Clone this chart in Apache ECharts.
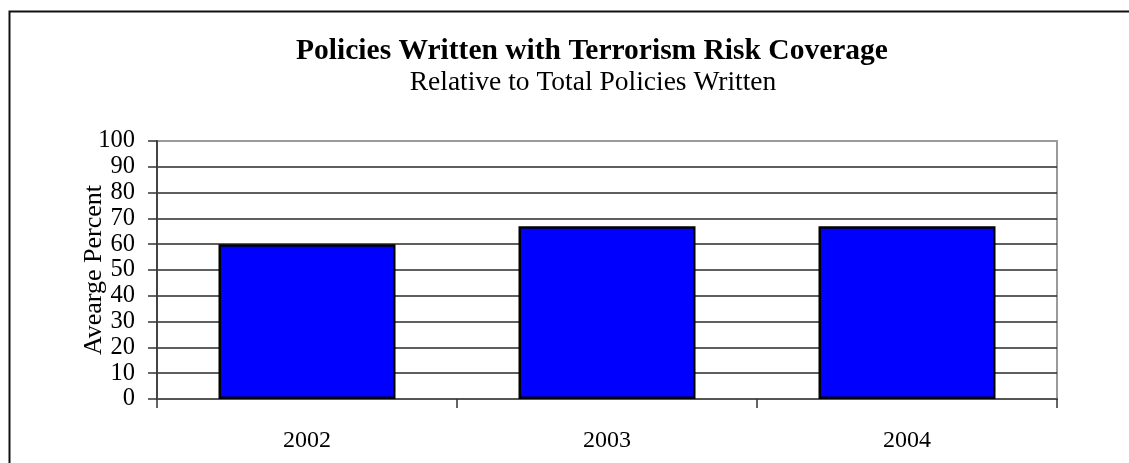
<!DOCTYPE html>
<html>
<head>
<meta charset="utf-8">
<script src="https://cdn.jsdelivr.net/npm/echarts@6/dist/echarts.min.js"></script>
<style>
html,body{margin:0;padding:0;background:#fff;}
#chart{width:1129px;height:463px;}
</style>
</head>
<body>
<div id="chart"></div>
<script>
// data
var years = ['2002', '2003', '2004'];
var avgPercent = [60, 67, 67];
var yTicks = [0, 10, 20, 30, 40, 50, 60, 70, 80, 90, 100];

var serif = 'Liberation Serif';
var myChart = echarts.init(document.getElementById('chart'));

// grid line colours, one per tick line (top one is lighter, like the plot frame)
var gridColors = [];
for (var i = 0; i < yTicks.length; i++) {
    if (i == yTicks.length - 1) gridColors.push('#9a9a9a');
    else gridColors.push('#2a2a2a');
}

var option = {
    backgroundColor: '#fff',
    animation: false,
    graphic: [{
        type: 'rect',
        left: 7, top: 9,
        shape: {width: 1300, height: 600},
        style: {fill: 'none', stroke: '#111', lineWidth: 2}
    }],
    title: [{
        text: 'Policies Written with Terrorism Risk Coverage',
        left: 587, top: 31, textAlign: 'center',
        textStyle: {fontFamily: serif, fontWeight: 'bold', fontSize: 29.5, color: '#000'}
    }, {
        text: 'Relative to Total Policies Written',
        left: 588, top: 64, textAlign: 'center',
        textStyle: {fontFamily: serif, fontWeight: 'normal', fontSize: 27.5, color: '#000'}
    }],
    grid: {
        left: 157, right: 72, top: 141, bottom: 64,
        show: true, borderColor: '#9a9a9a', borderWidth: 2
    },
    xAxis: {
        type: 'category',
        data: years,
        axisLine: {lineStyle: {color: '#555', width: 2}},
        axisTick: {show: true, length: 9, interval: 0, lineStyle: {color: '#333', width: 1.5}},
        axisLabel: {fontFamily: serif, fontSize: 24, color: '#000', margin: 30},
        splitLine: {show: false}
    },
    yAxis: {
        type: 'value',
        min: yTicks[0], max: yTicks[yTicks.length - 1], interval: 10,
        name: 'Avearge Percent',
        nameLocation: 'middle',
        nameGap: 50,
        nameMoveOverlap: false,
        nameTextStyle: {fontFamily: serif, fontSize: 26, color: '#000'},
        axisLine: {show: true, lineStyle: {color: '#444', width: 2}},
        axisTick: {show: true, length: 9, lineStyle: {color: '#333', width: 1.5}},
        axisLabel: {fontFamily: serif, fontSize: 24.5, color: '#000', margin: 22},
        splitLine: {show: true, lineStyle: {color: gridColors, width: 1.5}}
    },
    series: [{
        type: 'bar',
        data: avgPercent,
        barWidth: '59%',
        itemStyle: {color: '#0000ff', borderColor: '#000', borderWidth: 2.5}
    }]
};
myChart.setOption(option);
</script>
</body>
</html>
